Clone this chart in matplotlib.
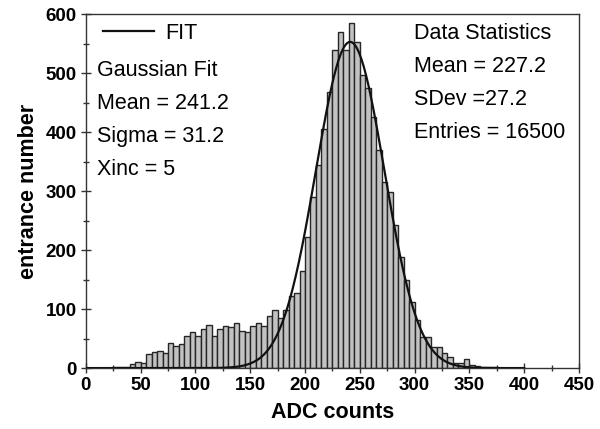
import matplotlib.pyplot as plt
import numpy as np

# ==============================
# Data (bin width 5, left edges)
# ==============================
bin_width = 5
bin_start = 25
counts = [1, 1, 2, 7, 11, 9, 24, 27, 29, 25,            # 25 - 75
          43, 37, 41, 55, 62, 55, 66, 73, 55, 66,        # 75 - 125
          71, 70, 77, 63, 62, 72, 76, 72, 88, 99,        # 125 - 175
          85, 99, 123, 127, 164, 223, 290, 344, 406, 468,  # 175 - 225
          539, 569, 540, 585, 553, 497, 474, 426, 369, 316,  # 225 - 275
          298, 242, 189, 150, 112, 81, 53, 53, 36, 35,    # 275 - 325
          26, 18, 9, 8, 15, 5, 4, 2, 1, 1]                # 325 - 375

# Gaussian fit parameters
fit_mean = 241.2
fit_sigma = 31.2
fit_amp = 553
fit_range = (0, 400)

left_lines = ["Gaussian Fit", "Mean = 241.2", "Sigma = 31.2", "Xinc = 5"]
right_lines = ["Data Statistics", "Mean = 227.2", "SDev =27.2", "Entries = 16500"]

plt.rcParams['font.family'] = ['Liberation Sans', 'DejaVu Sans']

fig = plt.figure(figsize=(6, 4.29), dpi=100)
ax = fig.add_axes([0.143, 0.142, 0.822, 0.825])

edges = bin_start + bin_width * np.arange(len(counts))
ax.bar(edges, counts, width=bin_width, align="edge",
       color="#c2c2c2", edgecolor="#262626", linewidth=1.0, zorder=2)

xs = np.linspace(fit_range[0], fit_range[1], 400)
ys = fit_amp * np.exp(-0.5 * ((xs - fit_mean) / fit_sigma) ** 2)
ax.plot(xs, ys, color="#111111", linewidth=1.6, label="FIT", zorder=3)

# ==============================
# Text boxes
# ==============================
txt_size = 15.5
y_left = [0.842, 0.748, 0.655, 0.561]
for txt, yy in zip(left_lines, y_left):
    ax.text(0.022, yy, txt, transform=ax.transAxes, fontsize=txt_size, va="center", ha="left")

y_right = [0.946, 0.852, 0.759, 0.666]
for txt, yy in zip(right_lines, y_right):
    ax.text(0.665, yy, txt, transform=ax.transAxes, fontsize=txt_size, va="center", ha="left")

ax.legend(loc="center left", bbox_to_anchor=(0.008, 0.946), frameon=False,
          fontsize=txt_size, handlelength=2.4, handletextpad=0.5, borderpad=0.1)

# ==============================
# Axes styling
# ==============================
ax.set_xlim(0, 450)
ax.set_ylim(0, 600)
ax.set_xticks(np.arange(0, 451, 50))
ax.set_xticks(np.arange(25, 451, 50), minor=True)
ax.set_yticks(np.arange(0, 601, 100))
ax.set_yticks(np.arange(50, 601, 100), minor=True)
ax.tick_params(which="major", direction="inout", length=7, width=1, labelsize=13.5,
               color="#333333", pad=3)
ax.tick_params(which="minor", direction="inout", length=5, width=1, color="#333333")
for lbl in ax.get_xticklabels() + ax.get_yticklabels():
    lbl.set_fontweight("bold")
for sp in ax.spines.values():
    sp.set_color("#333333")
    sp.set_linewidth(1.0)

ax.set_xlabel("ADC counts", fontsize=15.5, fontweight="bold", labelpad=6)
ax.set_ylabel("entrance number", fontsize=15.5, fontweight="bold", labelpad=5)

fig.savefig("out.png", dpi=100)
